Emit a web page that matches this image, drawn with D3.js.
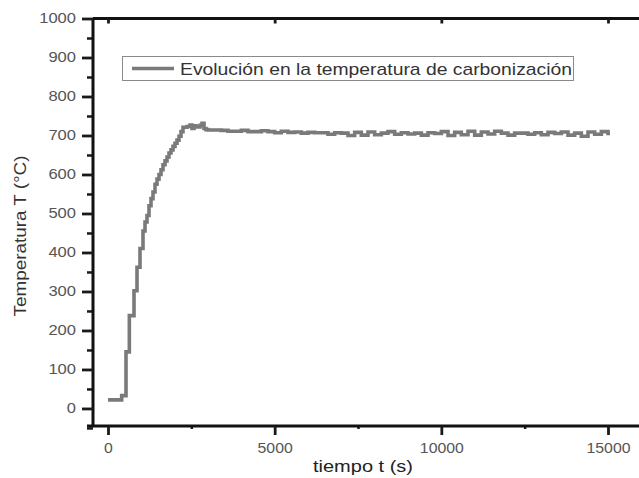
<!DOCTYPE html>
<html>
<head>
<meta charset="utf-8">
<script src="https://cdn.jsdelivr.net/npm/d3@7"></script>
<style>
  body { margin: 0; background: #fff; }
  svg { display: block; font-family: "Liberation Sans", Arial, sans-serif; }
</style>
</head>
<body>
<div id="chart"></div>
<script>
// time (s) and temperature (°C), step data
var tiempo = [0, 410, 540, 640, 780, 870, 960, 1050, 1110, 1170, 1230, 1290, 1350, 1410, 1470,
  1530, 1590, 1650, 1710, 1770, 1830, 1890, 1950, 2010, 2070, 2130, 2190, 2250, 2370, 2460,
  2520, 2580, 2640, 2760, 2820, 2880, 2940,
  3000, 3200, 3400, 3600, 3800, 4000, 4200, 4400, 4600, 4800, 5000, 5200, 5400, 5600, 5800,
  6000, 6200, 6400, 6600, 6800, 7000, 7200, 7400, 7600, 7800, 8000, 8200, 8400, 8600, 8800,
  9000, 9200, 9400, 9600, 9800, 10000, 10200, 10400, 10600, 10800, 11000, 11200, 11400, 11600, 11800,
  12000, 12200, 12400, 12600, 12800, 13000, 13200, 13400, 13600, 13800, 14000, 14200, 14400, 14600, 14800,
  15000, 15060];
var temperatura = [22, 33, 145, 238, 302, 362, 410, 455, 478, 495, 520, 538, 555, 575, 588,
  600, 612, 625, 635, 645, 655, 663, 672, 680, 688, 698, 710, 721, 723, 727,
  718, 725, 722, 726, 731, 718, 715,
  714, 714, 713, 711, 711, 713, 710, 710, 712, 710, 707, 711, 708, 709, 706,
  708, 707, 707, 703, 707, 706, 700, 708, 701, 709, 702, 706, 710, 703, 707,
  704, 706, 701, 707, 705, 710, 700, 708, 702, 711, 701, 709, 704, 711, 706,
  701, 706, 706, 703, 707, 702, 708, 705, 709, 701, 706, 698, 709, 703, 710,
  705, 705];

var xMajor = [0, 5000, 10000, 15000];
var xMinor = [2500, 7500, 12500];
var yMajor = [0, 100, 200, 300, 400, 500, 600, 700, 800, 900, 1000];
var yMinor = [-50, 50, 150, 250, 350, 450, 550, 650, 750, 850, 950];

var etiquetaX = "tiempo t (s)";
var etiquetaY = "Temperatura T (°C)";
var leyenda = "Evolución en la temperatura de carbonización";

var width = 639, height = 478;
var margin = ({ top: 18.5, right: 0, bottom: 52, left: 93 });

var svg = d3.select("#chart")
  .append("svg")
  .attr("width", width)
  .attr("height", height);

var x = d3.scaleLinear()
  .domain([-450, 15930])
  .range([margin.left, width - margin.right]);

var y = d3.scaleLinear()
  .domain([-45, 1000])
  .range([height - margin.bottom, margin.top]);

var data = tiempo.map((t, i) => ({ t: t, v: temperatura[i] }));

// series
var line = d3.line()
  .x(d => x(d.t))
  .y(d => y(d.v))
  .curve(d3.curveStepAfter);

svg.append("path")
  .datum(data)
  .attr("fill", "none")
  .attr("stroke", "#7a7a7a")
  .attr("stroke-width", 3.6)
  .attr("d", line);

// y axis: minor ticks, then major with labels
svg.append("g")
  .attr("transform", `translate(${margin.left}, 0)`)
  .call(d3.axisLeft(y).tickValues(yMinor).tickSize(6).tickFormat(""))
  .call(g => g.select(".domain").remove())
  .call(g => g.selectAll("line").attr("stroke", "#1a1a1a").attr("stroke-width", 2.5));

var yAxis = svg.append("g")
  .attr("transform", `translate(${margin.left}, 0)`)
  .call(d3.axisLeft(y).tickValues(yMajor).tickSize(11).tickPadding(6).tickSizeOuter(0).tickFormat(d3.format("d")))
  .call(g => g.select(".domain").attr("stroke", "#111").attr("stroke-width", 3)
    .attr("d", `M0,${y(-45)}V${margin.top}`))
  .call(g => g.selectAll("line").attr("stroke", "#1a1a1a").attr("stroke-width", 2.8));

yAxis.selectAll("text")
  .attr("fill", "#555")
  .attr("font-size", 14)
  .attr("font-family", "Liberation Sans, Arial, sans-serif")
  .attr("lengthAdjust", "spacingAndGlyphs")
  .attr("textLength", function() { return this.textContent.length * 9.2; });

// x axis: bottom
svg.append("g")
  .attr("transform", `translate(0, ${height - margin.bottom})`)
  .call(d3.axisBottom(x).tickValues(xMinor).tickSize(3).tickFormat(""))
  .call(g => g.select(".domain").remove())
  .call(g => g.selectAll("line").attr("stroke", "#1a1a1a").attr("stroke-width", 2.5));

var xAxis = svg.append("g")
  .attr("transform", `translate(0, ${height - margin.bottom})`)
  .call(d3.axisBottom(x).tickValues(xMajor).tickSize(9).tickPadding(8).tickSizeOuter(0).tickFormat(d3.format("d")))
  .call(g => g.select(".domain").attr("stroke", "#111").attr("stroke-width", 3)
    .attr("d", `M${margin.left - 6},0H${width}`))
  .call(g => g.selectAll("line").attr("stroke", "#1a1a1a").attr("stroke-width", 2.8));

xAxis.selectAll("text")
  .attr("fill", "#555")
  .attr("font-size", 14)
  .attr("font-family", "Liberation Sans, Arial, sans-serif")
  .attr("lengthAdjust", "spacingAndGlyphs")
  .attr("textLength", function() { return this.textContent.length * 8.8; });

// top frame line with inward ticks
svg.append("g")
  .attr("transform", `translate(0, ${margin.top})`)
  .call(d3.axisTop(x).tickValues(xMajor).tickSize(-5).tickFormat("").tickSizeOuter(0))
  .call(g => g.select(".domain").attr("stroke", "#111").attr("stroke-width", 3)
    .attr("d", `M${margin.left},0H${width}`))
  .call(g => g.selectAll("line").attr("stroke", "#1a1a1a").attr("stroke-width", 2.8));

// axis titles
svg.append("text")
  .attr("x", 363)
  .attr("y", 472)
  .attr("text-anchor", "middle")
  .attr("fill", "#222")
  .attr("font-size", 17)
  .attr("lengthAdjust", "spacingAndGlyphs")
  .attr("textLength", 100)
  .text(etiquetaX);

svg.append("text")
  .attr("transform", `translate(26, 236) rotate(-90)`)
  .attr("text-anchor", "middle")
  .attr("fill", "#333")
  .attr("font-size", 17)
  .attr("lengthAdjust", "spacingAndGlyphs")
  .attr("textLength", 161)
  .text(etiquetaY);

// legend
var legend = svg.append("g");

legend.append("rect")
  .attr("x", 122.5)
  .attr("y", 56.5)
  .attr("width", 451)
  .attr("height", 24)
  .attr("fill", "#fff")
  .attr("stroke", "#8a8a8a")
  .attr("stroke-width", 1);

legend.append("line")
  .attr("x1", 132)
  .attr("x2", 174)
  .attr("y1", 68.5)
  .attr("y2", 68.5)
  .attr("stroke", "#7a7a7a")
  .attr("stroke-width", 3.6);

legend.append("text")
  .attr("x", 180)
  .attr("y", 74.5)
  .attr("fill", "#333")
  .attr("font-size", 17)
  .attr("lengthAdjust", "spacingAndGlyphs")
  .attr("textLength", 392)
  .text(leyenda);
</script>
</body>
</html>
